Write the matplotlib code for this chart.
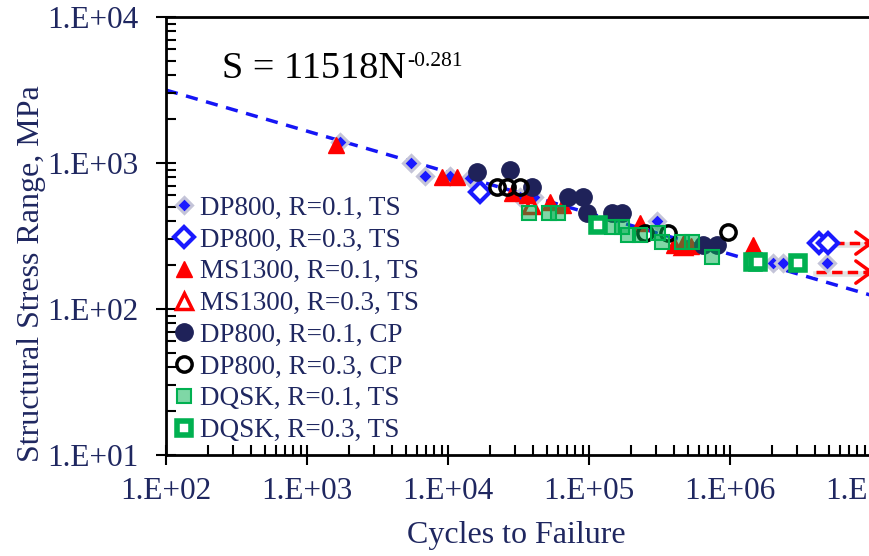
import numpy as np
import matplotlib
matplotlib.use('Agg')
import matplotlib.pyplot as plt
from matplotlib.ticker import LogLocator, FuncFormatter, NullFormatter

plt.rcParams['font.family'] = ['Liberation Serif', 'DejaVu Serif']

NAVY = '#1F2760'

# data (cycles, stress range MPa)
dp800_r01_ts_n = [1714, 5470, 6870, 10330, 14300, 32400, 40700, 303500, 2.02e6, 2.38e6, 4.88e6]
dp800_r01_ts_s = [1393, 1000, 815, 815, 789, 585, 585, 401, 206, 206, 206]

dp800_r03_ts_n = [16870, 4.28e6, 4.95e6]
dp800_r03_ts_s = [633, 283, 283]

ms1300_r01_ts_n = [1606, 9060, 11590, 28400, 36300, 52900, 65400, 230000, 400000, 470000, 530000, 1.456e6]
ms1300_r01_ts_s = [1329, 802, 802, 624, 600, 541, 515, 388, 274, 268, 268, 274]

ms1300_r03_ts_n = [38800, 464000]
ms1300_r03_ts_s = [515, 272]

dp800_r01_cp_n = [16070, 27540, 39400, 71000, 90600, 96800, 145600, 171000, 644000, 809000]
dp800_r01_cp_s = [867, 895, 686, 585, 585, 455, 455, 455, 274, 274]

dp800_r03_cp_n = [22300, 26200, 32400, 249000, 363000, 968000]
dp800_r03_cp_s = [686, 686, 686, 332, 332, 337]

dqsk_r01_ts_n = [37500, 52000, 60300, 145600, 171000, 189000, 230000, 308000, 329000, 457000, 537000, 745000]
dqsk_r01_ts_s = [455, 455, 455, 364, 364, 321, 321, 332, 288, 288, 288, 227]

dqsk_r03_ts_n = [116000, 1.45e6, 1.58e6, 3.03e6]
dqsk_r03_ts_s = [376, 210, 210, 206]

# run-outs (arrows to the right)
runout_n_start = [4.2e6, 4.1e6]
runout_s = [283, 179]
runout_n_end = 1.1e7

# fit S = A * N^b
fit_a = 11518
fit_b = -0.281
fit_n = np.array([1e2, 1e7])

fig = plt.figure(figsize=(8.7, 5.56), dpi=100)
ax = fig.add_axes([166 / 870, 101 / 556, 705 / 870, 438 / 556])

ax.plot(fit_n, fit_a * fit_n ** fit_b, color='#1515f5', lw=2.5, dashes=(3.5, 2.5), zorder=1)

ax.plot(dp800_r01_ts_n, dp800_r01_ts_s, 'D', ms=8, mfc='#1a1aff', mec='#c4c4d8', mew=2.2,
        label='DP800, R=0.1, TS', zorder=3)
ax.plot(dp800_r03_ts_n, dp800_r03_ts_s, 'D', ms=10, mfc='white', mec='#1a1aff', mew=3,
        label='DP800, R=0.3, TS', zorder=3)
ax.plot(ms1300_r01_ts_n, ms1300_r01_ts_s, '^', ms=12, mfc='#ff0000', mec='#ff0000', mew=1,
        label='MS1300, R=0.1, TS', zorder=4)
ax.plot(ms1300_r03_ts_n, ms1300_r03_ts_s, '^', ms=12, mfc='none', mec='#ff0000', mew=2.5,
        label='MS1300, R=0.3, TS', zorder=4)
ax.plot(dp800_r01_cp_n, dp800_r01_cp_s, 'o', ms=12.5, mfc='#1f2259', mec='#1f2259',
        label='DP800, R=0.1, CP', zorder=5)
ax.plot(dp800_r03_cp_n, dp800_r03_cp_s, 'o', ms=11, mfc='none', mec='black', mew=2.5,
        label='DP800, R=0.3, CP', zorder=6)
ax.plot(dqsk_r01_ts_n, dqsk_r01_ts_s, 's', ms=9.5, mfc=(0, 0.69, 0.31, 0.5), mec='#00b050', mew=1.5,
        label='DQSK, R=0.1, TS', zorder=7)
ax.plot(dqsk_r03_ts_n, dqsk_r03_ts_s, 's', ms=10.5, mfc='white', mec='#00b050', mew=4,
        label='DQSK, R=0.3, TS', zorder=7)

for n0, s in zip(runout_n_start, runout_s):
    # soft grey shadow under each run-out arrow
    ax.plot([n0, runout_n_end], [s * 0.975, s * 0.975], color='#e2e2e2', lw=4, zorder=1.5)
    ax.plot([n0, runout_n_end], [s, s], color='red', lw=2.5, dashes=(3, 1.5), zorder=2)
    ax.annotate('', xy=(runout_n_end, s), xytext=(runout_n_end * 0.8, s),
                arrowprops=dict(arrowstyle='->,head_length=1.1,head_width=0.8', color='red', lw=2.5),
                annotation_clip=False, zorder=2)

ax.set_xscale('log')
ax.set_yscale('log')
ax.set_xlim(1e2, 1e7)
ax.set_ylim(1e1, 1e4)

fmt = FuncFormatter(lambda v, pos: '1.E+%02d' % int(round(np.log10(v))))
for axis in (ax.xaxis, ax.yaxis):
    axis.set_major_locator(LogLocator(base=10, numticks=10))
    axis.set_minor_locator(LogLocator(base=10, subs=np.arange(2, 10), numticks=20))
    axis.set_major_formatter(fmt)
    axis.set_minor_formatter(NullFormatter())

ax.tick_params(which='major', direction='inout', length=14, width=1.5, labelsize=22.5,
               labelcolor=NAVY)
ax.tick_params(which='minor', direction='in', length=7, width=1.5)
ax.tick_params(axis='x', which='major', pad=9)
ax.tick_params(axis='y', which='major', pad=13)

ax.spines['right'].set_visible(False)
for side in ('left', 'bottom', 'top'):
    ax.spines[side].set_linewidth(2)

ax.set_xlabel('Cycles to Failure', fontsize=23, color=NAVY)
ax.set_ylabel('Structural Stress Range, MPa', fontsize=23, color=NAVY)
ax.xaxis.set_label_coords(0.497, -0.15)
ax.yaxis.set_label_coords(-0.17, 0.413)

eq = ax.text(0.079, 0.861, 'S = 11518N', transform=ax.transAxes,
             fontsize=27.5, color='black', va='baseline', ha='left')
ax.annotate('-0.281', xy=(1, 0), xycoords=eq, xytext=(2, 20), textcoords='offset pixels',
            fontsize=15.5, color='black', va='baseline', ha='left')

ax.legend(loc='upper left', bbox_to_anchor=(0.012, 0.592), frameon=False, fontsize=19.5,
          handlelength=0.7, handletextpad=0.25, labelspacing=0.25, borderaxespad=0,
          borderpad=0, labelcolor=NAVY, numpoints=1)

fig.savefig('out.png', dpi=100)
